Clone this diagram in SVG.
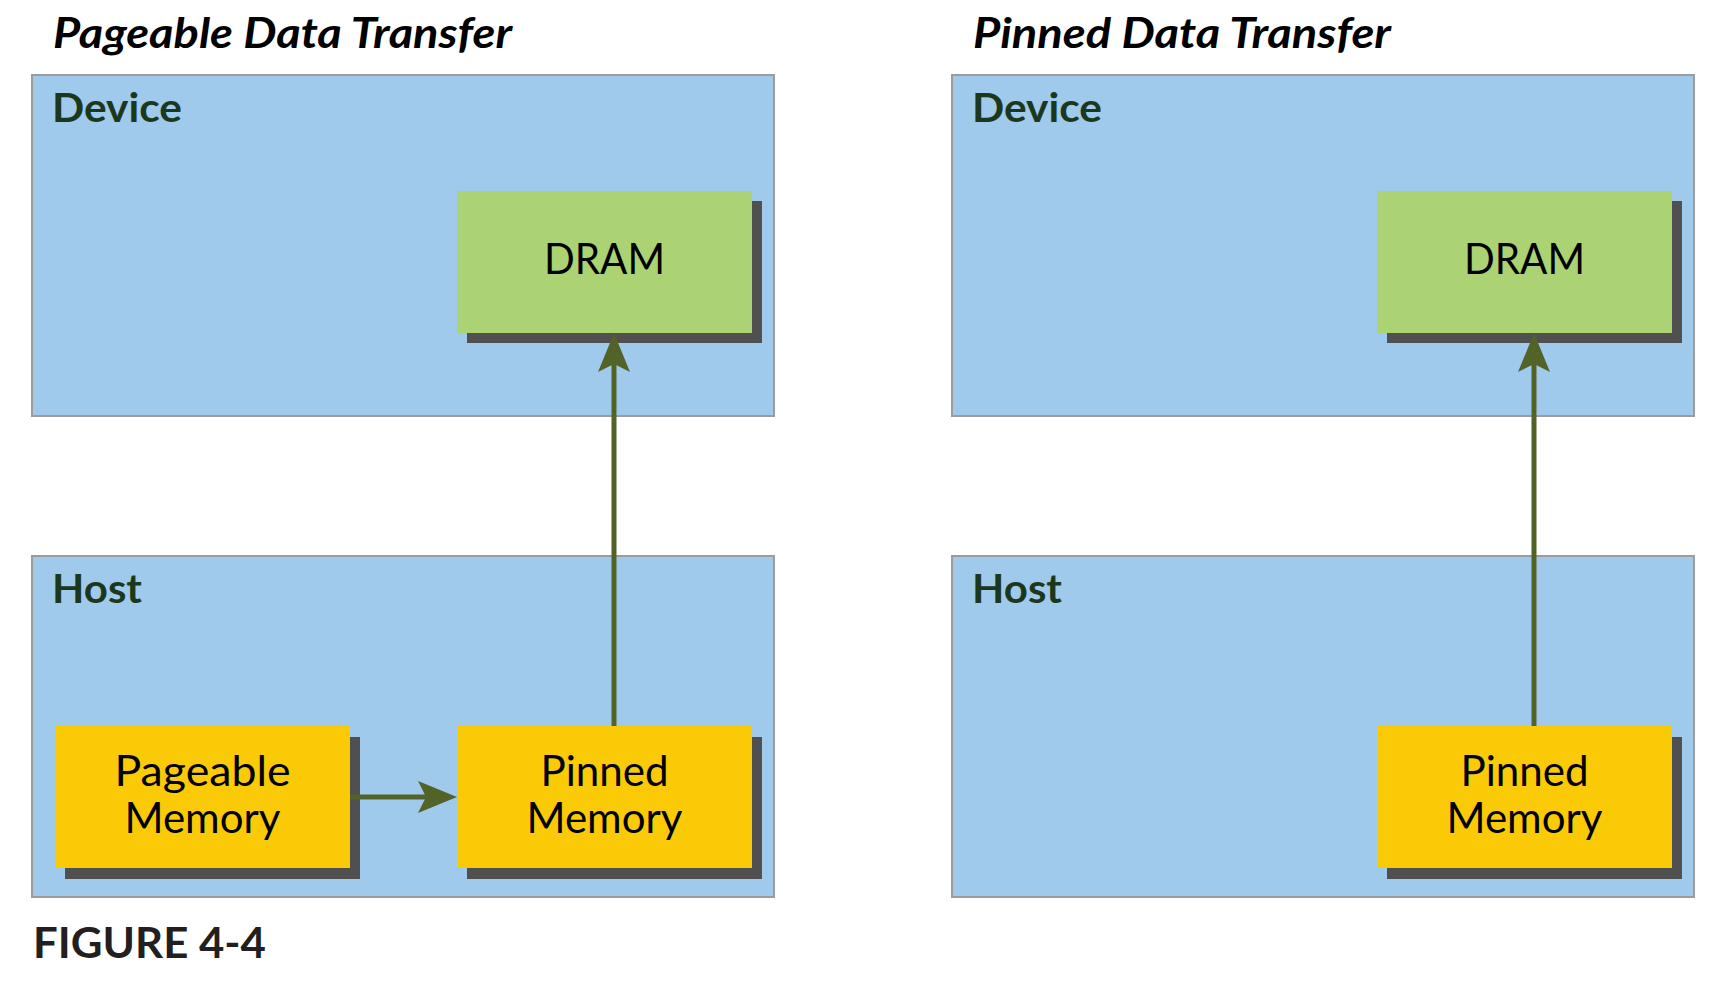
<svg xmlns="http://www.w3.org/2000/svg" width="1730" height="987" viewBox="0 0 1730 987">
<style>
.bg{fill:#ffffff}
.panel{fill:#9fcaeb;stroke:#9c9c9c;stroke-width:2}
.shadow{fill:#505050}
.dram{fill:#acd373}
.mem{fill:#fbca07}
.title{font-family:Lato,"Liberation Sans",sans-serif;font-weight:bold;font-style:italic;font-size:42px;fill:#000}
.plabel{font-family:Lato,"Liberation Sans",sans-serif;font-weight:bold;font-size:40px;fill:#1c381c}
.nlabel{font-family:Lato,"Liberation Sans",sans-serif;font-size:42px;fill:#000;text-anchor:middle}
.fig{font-family:Lato,"Liberation Sans",sans-serif;font-weight:bold;font-size:42px;fill:#231f20}
.conn{stroke:#536328;stroke-width:5;fill:none}
</style>
<defs>
<marker id="arrow" markerUnits="userSpaceOnUse" viewBox="-40 -17 41 34" markerWidth="41" markerHeight="34" refX="-31" refY="0" orient="auto">
<path d="M0,0 L-39,-16 L-31,0 L-39,16 Z" fill="#536328"/>
</marker>
</defs>
<rect class="bg" x="0" y="0" width="1730" height="987"/>

<text class="title" x="53" y="48" textLength="459" lengthAdjust="spacingAndGlyphs">Pageable Data Transfer</text>
<text class="title" x="973" y="48" textLength="418" lengthAdjust="spacingAndGlyphs">Pinned Data Transfer</text>

<g id="left-device">
<rect class="panel" x="32" y="75" width="742" height="341"/>
<text class="plabel" x="52" y="122" textLength="130" lengthAdjust="spacingAndGlyphs">Device</text>
</g>
<g id="left-host">
<rect class="panel" x="32" y="556" width="742" height="341"/>
<text class="plabel" x="52" y="603" textLength="90" lengthAdjust="spacingAndGlyphs">Host</text>
</g>
<g id="right-device">
<rect class="panel" x="952" y="75" width="742" height="341"/>
<text class="plabel" x="972" y="122" textLength="130" lengthAdjust="spacingAndGlyphs">Device</text>
</g>
<g id="right-host">
<rect class="panel" x="952" y="556" width="742" height="341"/>
<text class="plabel" x="972" y="603" textLength="90" lengthAdjust="spacingAndGlyphs">Host</text>
</g>

<g id="left-dram">
<rect class="shadow" x="467" y="201" width="295" height="142"/>
<rect class="dram" x="457" y="191" width="295" height="142"/>
<text class="nlabel" x="604.5" y="274" textLength="121" lengthAdjust="spacingAndGlyphs">DRAM</text>
</g>
<g id="left-pageable">
<rect class="shadow" x="65" y="737" width="295" height="142"/>
<rect class="mem" x="55" y="726" width="295" height="142"/>
<text class="nlabel" x="202.5" y="786" textLength="176" lengthAdjust="spacingAndGlyphs">Pageable</text>
<text class="nlabel" x="202.5" y="833" textLength="156" lengthAdjust="spacingAndGlyphs">Memory</text>
</g>
<g id="left-pinned">
<rect class="shadow" x="467" y="737" width="295" height="142"/>
<rect class="mem" x="457" y="726" width="295" height="142"/>
<text class="nlabel" x="604.5" y="786" textLength="128" lengthAdjust="spacingAndGlyphs">Pinned</text>
<text class="nlabel" x="604.5" y="833" textLength="156" lengthAdjust="spacingAndGlyphs">Memory</text>
</g>
<g id="right-dram">
<rect class="shadow" x="1387" y="201" width="295" height="142"/>
<rect class="dram" x="1377" y="191" width="295" height="142"/>
<text class="nlabel" x="1524.5" y="274" textLength="121" lengthAdjust="spacingAndGlyphs">DRAM</text>
</g>
<g id="right-pinned">
<rect class="shadow" x="1387" y="737" width="295" height="142"/>
<rect class="mem" x="1377" y="726" width="295" height="142"/>
<text class="nlabel" x="1524.5" y="786" textLength="128" lengthAdjust="spacingAndGlyphs">Pinned</text>
<text class="nlabel" x="1524.5" y="833" textLength="156" lengthAdjust="spacingAndGlyphs">Memory</text>
</g>

<g id="connectors">
<path class="conn" d="M350,797 L426,797" marker-end="url(#arrow)"/>
<path class="conn" d="M614,726 L614,364" marker-end="url(#arrow)"/>
<path class="conn" d="M1534,726 L1534,364" marker-end="url(#arrow)"/>
</g>

<text class="fig" x="33" y="958" textLength="233" lengthAdjust="spacingAndGlyphs">FIGURE 4-4</text>
</svg>
